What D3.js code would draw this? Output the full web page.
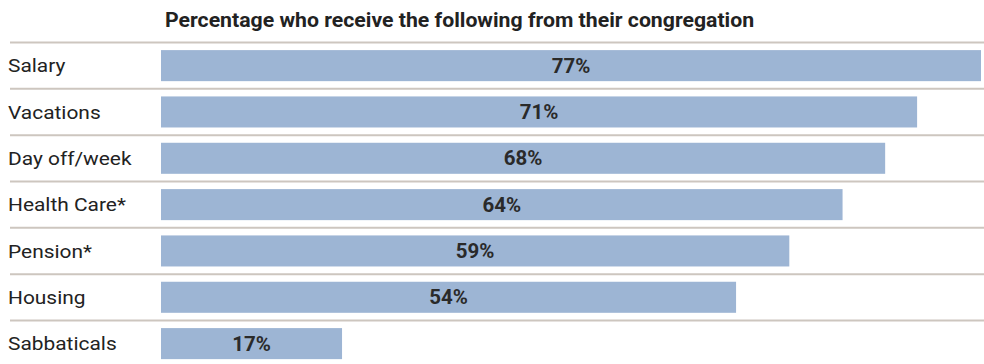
<!DOCTYPE html>
<html>
<head>
<meta charset="utf-8">
<script src="https://cdn.jsdelivr.net/npm/d3@7"></script>
<style>
  html, body { margin: 0; padding: 0; background: #fff; }
  svg { display: block; font-family: Roboto, "Noto Sans", sans-serif; }
</style>
</head>
<body>
<svg id="chart" width="984" height="364"></svg>
<script>
// Benefits received from the congregation (percent)
const categories = ["Salary", "Vacations", "Day off/week", "Health Care*", "Pension*", "Housing", "Sabbaticals"];
const values = [77, 71, 68, 64, 59, 54, 17];
const valueLabels = ["77%", "71%", "68%", "64%", "59%", "54%", "17%"];
const title = "Percentage who receive the following from their congregation";

const W = 984, H = 364;
const svg = d3.select("#chart");

const x = d3.scaleLinear().domain([0, 77]).range([161, 981]);
const y = d3.scaleBand().domain(categories).range([42, 42 + 7 * 46.33]).paddingInner(0).paddingOuter(0);

const barOffset = y.bandwidth() * 0.175;
const barH = y.bandwidth() * 0.67;

// title (slightly widened type)
svg.append("text")
  .attr("transform", "translate(165,27) scale(1.09,1)")
  .attr("font-size", 19.5).attr("font-weight", 700).attr("fill", "#222")
  .text(title);

// row separators
svg.selectAll("line.sep").data(categories).join("line")
  .attr("class", "sep")
  .attr("x1", 10).attr("x2", W)
  .attr("y1", d => y(d) + 0.5).attr("y2", d => y(d) + 0.5)
  .attr("stroke", "#cdc6bf").attr("stroke-width", 2);

// bars
svg.selectAll("rect.bar").data(categories).join("rect")
  .attr("class", "bar")
  .attr("x", x(0))
  .attr("y", d => y(d) + barOffset)
  .attr("width", (d, i) => x(values[i]) - x(0))
  .attr("height", barH)
  .attr("fill", "#9db5d4");

// category labels
svg.selectAll("text.cat").data(categories).join("text")
  .attr("class", "cat")
  .attr("transform", d => `translate(8,${y(d) + barOffset + barH / 2}) scale(1.1,1)`)
  .attr("dy", "0.36em")
  .attr("font-size", 19).attr("fill", "#222")
  .text(d => d);

// value labels, centered in each bar
svg.selectAll("text.val").data(categories).join("text")
  .attr("class", "val")
  .attr("transform", (d, i) => `translate(${(x(0) + x(values[i])) / 2},${y(d) + barOffset + barH / 2}) scale(1.05,1)`)
  .attr("dy", "0.36em")
  .attr("text-anchor", "middle")
  .attr("font-size", 19.5).attr("font-weight", 700).attr("fill", "#2a2a2a")
  .text((d, i) => valueLabels[i]);
</script>
</body>
</html>
